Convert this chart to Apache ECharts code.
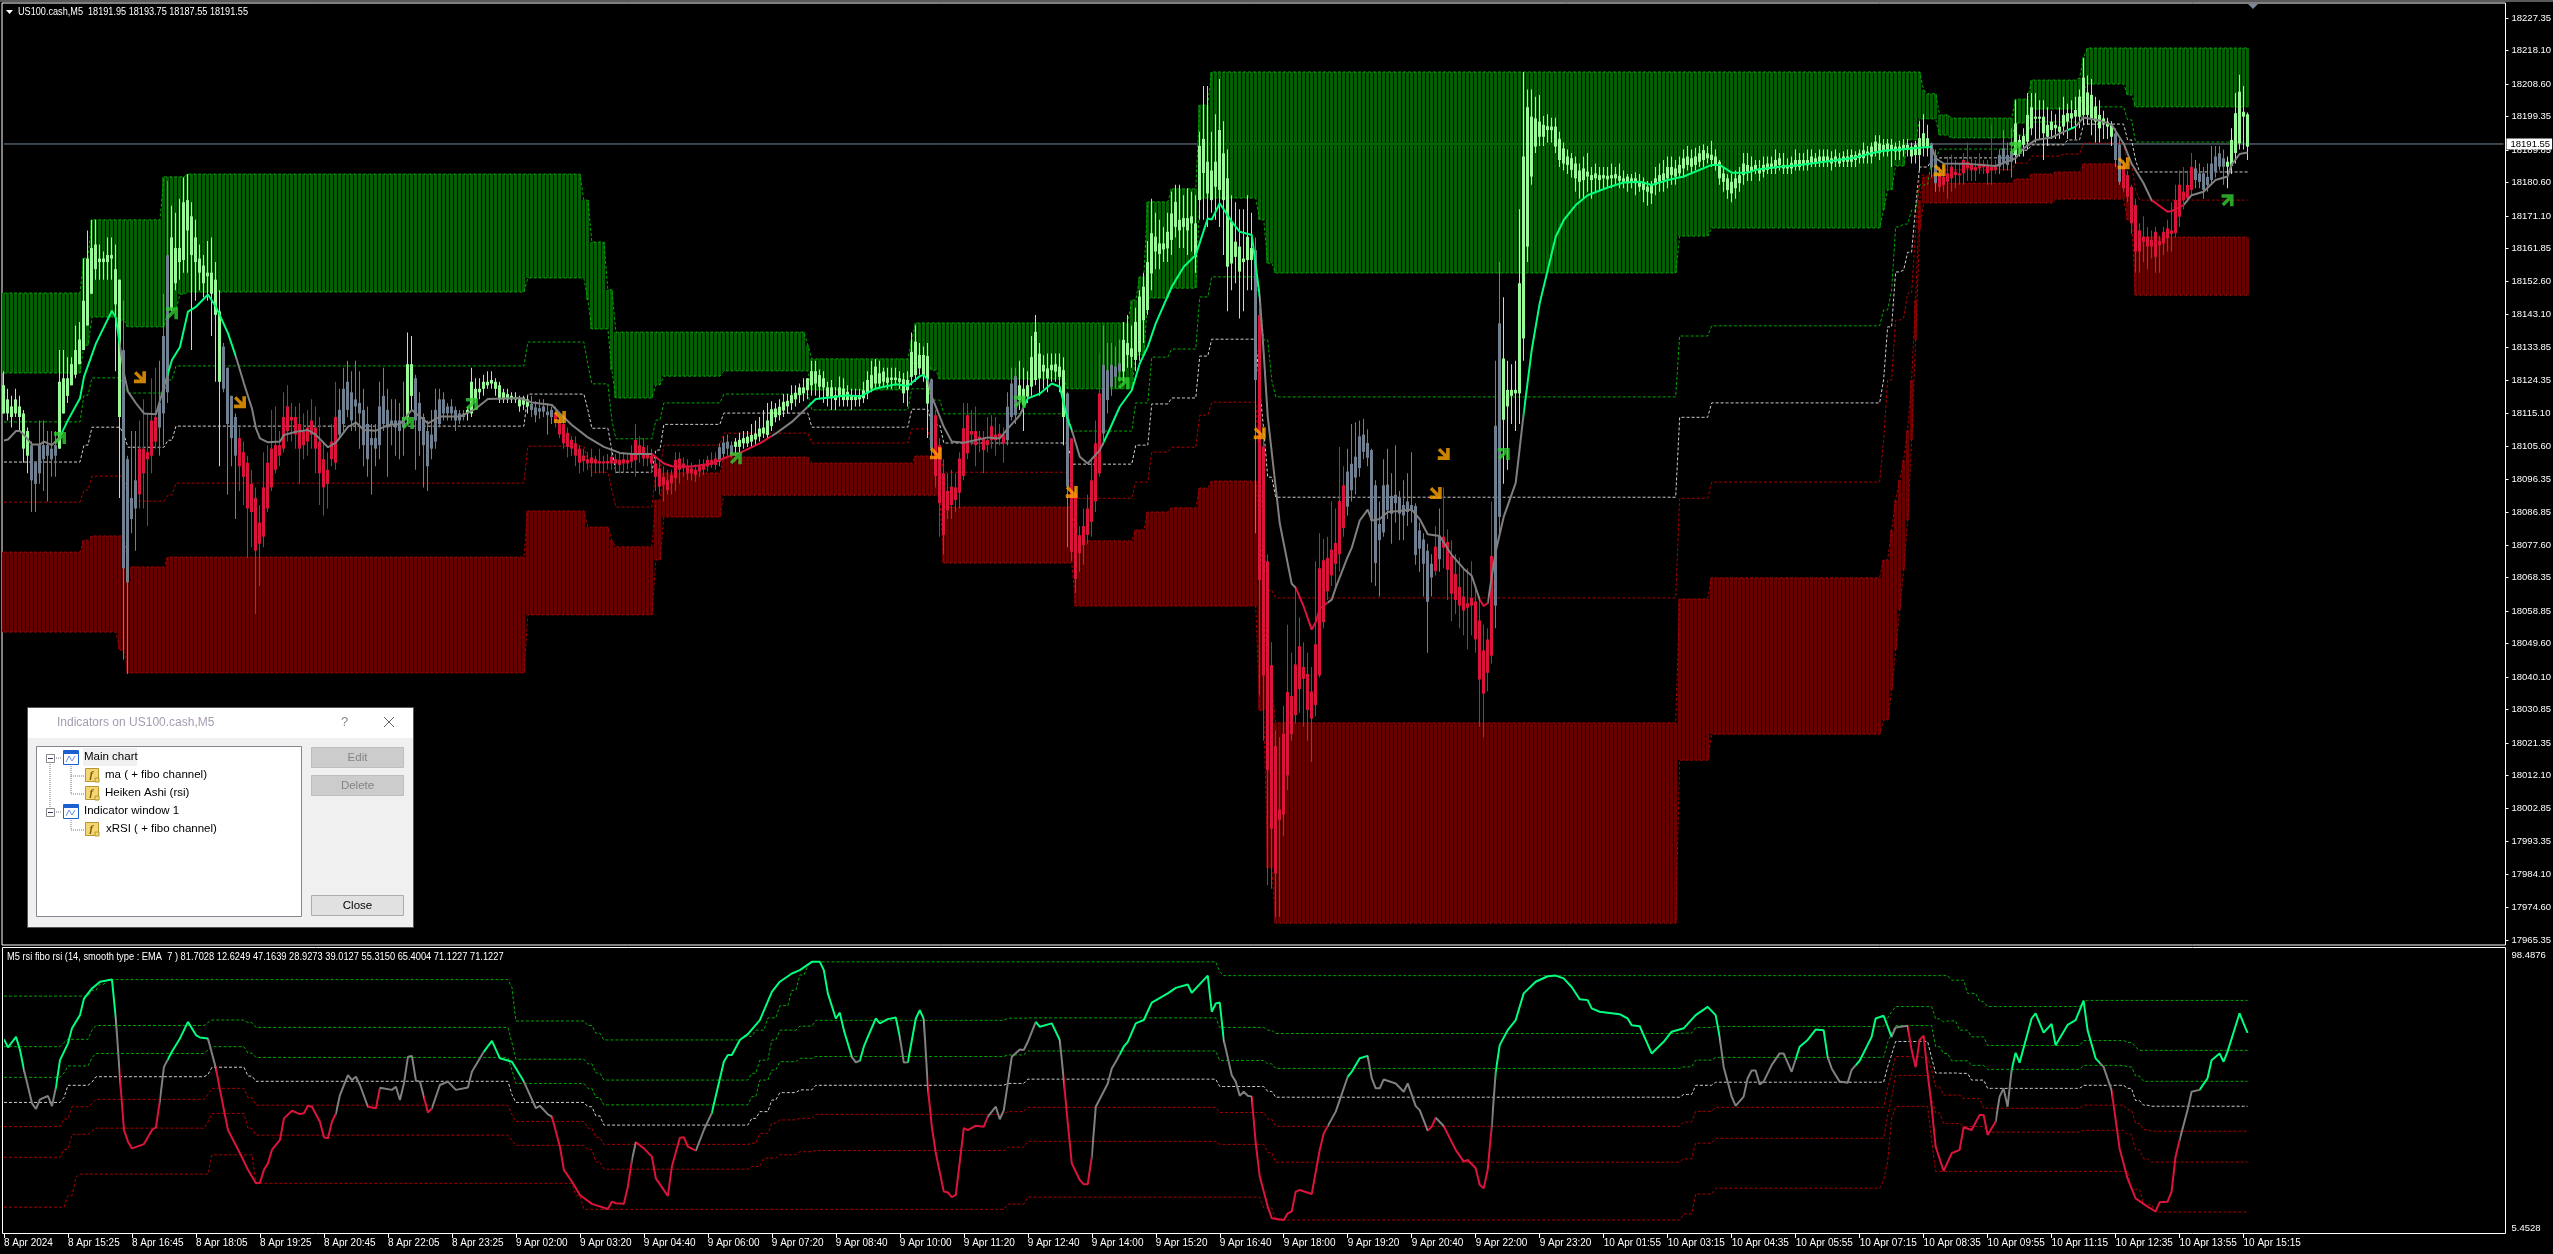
<!DOCTYPE html>
<html><head><meta charset="utf-8"><title>US100.cash,M5</title>
<script src="https://cdn.jsdelivr.net/npm/echarts@6/dist/echarts.min.js"></script>
<style>html,body{margin:0;background:#000}#c{width:2553px;height:1254px}</style></head>
<body><div id="c"></div><script>
const priceBase = 18000;
const barCount = 562, slotCount = 626;
const timeLabels = ['8 Apr 2024','8 Apr 15:25','8 Apr 16:45','8 Apr 18:05','8 Apr 19:25','8 Apr 20:45','8 Apr 22:05','8 Apr 23:25','9 Apr 02:00','9 Apr 03:20','9 Apr 04:40','9 Apr 06:00','9 Apr 07:20','9 Apr 08:40','9 Apr 10:00','9 Apr 11:20','9 Apr 12:40','9 Apr 14:00','9 Apr 15:20','9 Apr 16:40','9 Apr 18:00','9 Apr 19:20','9 Apr 20:40','9 Apr 22:00','9 Apr 23:20','10 Apr 01:55','10 Apr 03:15','10 Apr 04:35','10 Apr 05:55','10 Apr 07:15','10 Apr 08:35','10 Apr 09:55','10 Apr 11:15','10 Apr 12:35','10 Apr 13:55','10 Apr 15:15'];
const priceTicks = [18227.35,18218.10,18208.60,18199.35,18189.85,18180.60,18171.10,18161.85,18152.60,18143.10,18133.85,18124.35,18115.10,18105.60,18096.35,18086.85,18077.60,18068.35,18058.85,18049.60,18040.10,18030.85,18021.35,18012.10,18002.85,17993.35,17984.10,17974.60,17965.35];
const rsiTicks = [98.4876,5.4528];
const lastPrice = 18191.55;

// Heiken Ashi bars: [open, close, low, high], price minus priceBase
const bars000 = [[115,123,115,127],[115,119,113,122],[114,117,111,120],[115,119,114,122],[114,117,110,120],[105,115,101,116],[103,110,98,111],[96,106,87,107],[95,101,87,101],[98,106,95,113],[102,106,93,113],[103,106,90,110],[102,105,97,110],[103,106,97,110],[105,124,105,133],[115,125,115,133],[120,125,118,131],[123,129,123,131],[126,133,125,140],[129,136,129,141],[133,147,133,159],[140,159,140,167],[149,162,149,170],[156,163,153,170],[158,159,153,163],[158,159,153,161],[158,160,153,165],[159,160,153,165],[146,156,127,163],[114,153,91,153],[71,133,45,147],[67,102,41,103],[85,91,81,110],[88,96,76,110],[92,105,88,113],[98,105,88,119],[102,104,83,115],[103,113,98,125],[107,114,105,128],[111,118,103,130],[115,137,106,149],[121,160,118,181],[145,165,144,174],[152,162,150,172],[158,162,153,176],[158.6,175,155,182],[167,175.6,155,183],[160,171,133,175],[158,165,147,170],[155,159,150,163],[152,157,148,160],[154,155,147,164],[149,155,137,165],[143,153,124,158],[124,144,100,150],[122,134,121,135],[112,128,92,128],[108,120,100,120],[103,114,85,115],[100,108,93,111],[97,104,89,107],[88,101,74,103],[87,95,77,99],[76,91,58,94],[78,84,66,89],[80,94,77,104],[88,101,87,106],[94,105,93,116],[99,106,98,117],[103,106,100,110],[105,114,104,121],[110,117,107,123],[113,114,107,118],[109,114,105,117],[105,112,95,118],[106,110,102,115],[107,111,103,116],[109,113,105,119],[105,111,98,117],[98,107,89,114],[94,102,86,107],[95,99,88,104],[102,107,100,112],[101,114,99,124],[109,116,108,122],[112,122,110,128],[116,124,114,130],[113,121,110,127],[117,119,110,130],[115,118,105,127],[106,116,100,122],[102,112,97,117],[106,108,92,112],[105,108,100,112],[106,117,102,124],[112,120,110,128],[111,116,97,122],[112,113,106,119],[111,113,103,119],[110,113,102,118]];
const bars100 = [[111,114,103,124],[114,129,112,138],[120,129,116,137],[113,125,99,126],[110,118,103,121],[106,114,94,115],[100,110,93,113],[105,109,102,116],[107,116,105,122],[112,119,111,122],[115,119,113,121],[115,117,113,118],[115,117,113,119],[113,116,110,117],[113,115,112,116],[114,115,113,116],[115,116,113,117],[115,124,114,128],[119,122,118,125],[121,122,119,125],[122,124,120,126],[123,124,122,127],[123.5,124.5,122,127],[122,124,120,125],[119,123,118,124],[119,121,118,122],[119,120.5,118,122],[119,120,118,121],[119,119.7,118,121],[117,119,115.5,120],[117.5,119.5,116,120],[117,119,115,120],[116,117.7,114,120],[114.5,116.7,112.5,118.5],[115.5,116.5,113.5,119],[115.5,117,114,119],[114.5,115.5,109,118],[114,116,112,117],[113,115,111,117],[109,112.5,108,114],[106.5,112,105,114],[105.5,109.5,102.5,111],[105,107.5,103,108.5],[103,106.5,100,108.5],[101,105,98,106],[101.5,103,98.5,105],[100.8,102,99,104],[100.8,102.5,97,105],[100.8,102,98,103],[100.8,101.5,98,105],[100.8,101.4,98,103],[100.8,101.5,99,103.5],[100.8,102.7,99,105],[100.8,102,98,103.5],[100.4,101.8,98,104],[100.8,102,98,104],[100.8,101.8,99,103.5],[101.3,103.6,99.5,106],[101.7,107.5,97,112],[103.7,106,101,108.5],[102.2,105.5,100,108],[102.2,103.8,100,106],[100.8,103,98,105],[97,100.8,93,103],[94.2,99.4,92,102],[94.7,97,90,100],[93.2,96,92,99],[95.2,97.5,92,99],[96.6,101.8,93,104],[99,102.2,95,104],[99.4,100.8,97,102.5],[98,100,96,102],[98,99.4,96,101],[97.5,99,95.5,100.5],[98.5,100,97,102],[99,100.5,97.5,102],[99.9,101.8,98.5,103],[100.4,101.8,99.5,104],[100.4,102.2,99,104],[101.3,105.4,100,106.5],[103.5,106.7,102.5,108.5],[105,107,103,109],[103.2,106,102.5,107],[105.5,107,103,108],[105.5,107.5,104,109.5],[106.5,108,105,110],[106.5,108.4,105.5,110],[107,108.9,105.5,112],[107.6,109.3,106,113],[108.4,110.7,107,114],[109.3,111,108,116],[108.9,113,108,118],[111.4,116.2,110,118.5],[113.9,116.4,112.5,118],[114.5,116.9,113,119],[115.8,118.3,114,120.5],[117,118.6,115,120.5],[117.9,120.2,116,123],[119,120.9,117,123],[120.2,122.4,118,123.5]];
const bars200 = [[120.7,122.4,118.5,125],[121.6,125,119,125],[123,127,120,130],[123.5,127,120,130],[122.6,125.9,119,127.5],[122.4,125,118,127],[119.8,122.4,117,124],[119.3,122.4,116,124.5],[118.8,120.2,116,122.5],[119.8,122.4,117,125.5],[118.8,122.1,117,125],[118.8,121.2,117,123],[118.8,120.2,116,122],[118.8,120.2,117,122],[119,120.2,117,122],[119.3,121.6,118,124],[120.7,124.5,119,127],[122.1,125.9,121,130],[123.5,128.3,122,130.5],[123.5,126.4,122,130],[124,126.9,122.5,128],[123.7,125.2,122,128],[124.5,125.2,122,128],[124.5,125.2,123,128],[124,125,122,127],[120.7,124.7,118,126.5],[121.6,124.5,117,127],[125.4,132.5,123,138],[125.9,135.4,124,140],[127.8,131.6,126,135],[125.9,131.6,124,134],[117.8,131.3,108,135],[105,124.7,103,125],[97.2,114.5,94,116],[89.5,106,80,108],[80.5,98,75,102],[87.5,93,85,98],[89,94.2,85,99],[90.4,94,87,98],[92.5,102.2,88,104],[97.2,110.8,96,118],[103.7,114.5,102,118],[109,110,106,116],[106,110,100,117],[107.5,108.4,104,110],[104.6,108,98,110],[106,107.4,104,114],[107.4,111.4,105,114.5],[107.4,109,103,114],[108,109.3,106,112],[106.5,108.9,101,111],[107.4,116.9,106,121],[114,123.5,113,128],[114.5,125.6,112,128],[118.8,123,116,130],[117.4,122,110,128],[119.8,123,118,127],[122.6,131,120,137],[124.5,138.2,123,143],[125,132,120,135],[126.9,128.8,122,131.5],[125,127.8,121,132],[127.3,128.8,124,132],[126.9,129,124,132],[125.4,128.3,121,132],[114,127.3,106,131],[94.2,120.7,77,121],[75.7,107.9,73,108],[68,92.3,64,94],[75.3,80.4,70,83],[77.6,83,72,88],[80.5,88,78,92],[84.2,96,80,102],[90,106.5,87,113],[98,120.7,97,132],[109.3,128.8,106,140],[118.8,127.3,115,135],[122.6,128.8,120,135],[125.4,128.3,122,134],[126.9,129.2,124,136],[126.9,135.9,124,141],[131.6,135,128,143],[131.1,133.5,128,140],[130.2,141,127,145],[132.5,148.2,130,150],[141.5,151,135,155],[144.4,158,143,164],[154.8,166.2,150,176],[161,165.2,156,172],[160.3,163.3,156,170],[161.6,163.3,158,168],[161.9,166.6,158,172],[164.3,171.8,160,178],[168,175.1,165,180],[167,170,162,180],[168,170.5,162,177],[167,170.5,160,179],[169,171,161,178],[159.5,169,155,177],[175.6,191,170,195]];
const bars300 = [[183.3,193,170,208],[177.5,186.5,168,208],[175.6,184,172,195],[179.4,186.5,170,200],[178.5,195.5,168,210],[175.6,188.9,160,198],[156.7,181.8,144,190],[157.6,169.5,150,177],[159.5,163.8,152,175],[155.3,162.4,142,173],[158,159,144,173],[158.6,165.2,150,177],[158.6,162,150,172],[124.5,161.4,81,165],[67.7,143,35,145],[40.6,105.6,22,110],[13.7,73,-19,75],[-3,43.5,-20,50],[-15.7,20.5,-28,25],[-0.5,2.5,-28,23],[1,24,-5,32],[12.2,35.9,8,55],[23.9,34.7,22,47],[29.3,43.7,27,65],[36.7,48.9,30,57],[39.6,43,26,50],[30.8,41,22,47],[28.3,36,16,43],[32.2,49.4,29,73],[40.6,71,40,81],[55.7,73.3,54,79.3],[64.5,74,62,80],[69,76.3,66,90],[72.3,78.2,65,88],[75,90.1,70,105.5],[82.4,94.6,80,100],[88.5,98.5,86,105],[93.2,100.7,90,112],[96.8,102.7,92,112.5],[99.5,108.5,97,113],[104.1,109,102,113.5],[102.4,106.6,100,110.5],[84.6,104.6,67,105],[72.5,94.6,66,96],[79,83.6,63,90],[81.2,94.6,80,102],[87.5,94.8,85,105],[86.5,91.6,78,98],[89.5,91.9,84,106],[86.5,91,79,93],[86,89,79,96],[87,90,83,98],[87.5,89,84,104],[74.8,88.7,72,89.5],[76.6,81.8,70,84],[72.3,79.2,63,81],[61.5,76,47,78],[68.4,72.3,63,75],[70.2,77.2,69,83],[73.6,80.2,70,88],[76.8,80,71,94],[70.6,78.5,62,82],[63.8,74.5,56,79],[62,69.4,58,75],[60.4,65.7,54,74],[59,63,52,71],[59.8,61.1,48,71],[60.4,62.6,52,73],[50.8,61.6,47,65],[39.4,56.2,26,63],[35.4,47.7,23,55],[41.3,50.8,36,54],[46.2,74.5,44,90],[60.4,111.5,54,130],[85.6,140.6,80,158],[113.2,130.6,95,148],[117,121.7,99,130],[120,121.7,112,129],[120.7,121.7,110,130],[120.7,152,112,173],[136.3,188,130,212],[162.4,202,158,207],[182.3,199.3,180,207],[190.8,198.8,189,205],[193.6,197.9,191,205.5],[193.6,197,191,199.5],[195.5,196.6,192,200],[195.5,196.5,192,199],[190.8,196.5,189,199],[187,193,185,195],[186,190.3,184,192],[185.6,188,183,190],[184.2,187.5,182,189],[181.8,186,178,188],[180.8,184,176,186],[181.3,184.6,176,188],[182.3,183.7,178,189],[181.3,182.7,176,185],[181.8,183.2,178,186],[181.3,182.7,178,185]];
const bars400 = [[181.8,182.7,179,185],[181.5,182.5,179,185],[181.8,182.7,179,186],[181.8,183,180,185],[181.1,182.5,179,186],[180.8,181.8,179,184],[180.4,182.3,178,183],[180.8,181.8,179,183],[180.4,181.8,177,183.5],[179.4,180.8,178,183],[178.5,180.8,175,182],[178,179.4,174,181],[177.5,179.9,174.5,181],[179.9,181.8,177,185],[180.8,182.7,178,186],[181.3,183.2,178,187],[181.8,185,179,188],[182.7,185,180,188],[182.3,184.6,180,187],[183.2,185.6,182,188],[184.6,187.5,182,190],[185.6,188,184,191],[185.1,187.5,183,190],[185.6,188,184,190.5],[186.5,188.9,185,191],[187,189.8,185,191.5],[187.5,188.9,186,191],[187,188.5,185,192.5],[185.6,188,184,190],[181.8,186.5,180,187],[180.8,183.2,178,185],[178.5,181.8,176,183],[177.5,180.8,175,183],[179,181.8,176,184],[180.4,182.7,178,185],[182.7,186,180,189],[183.7,185.6,181,189],[183.7,185.1,181,188],[184.2,185.6,183,187],[183.2,184.6,181,187],[183.7,185.6,182,188],[184.2,186,183,188],[184.6,186,183,188],[184.6,187,183,190],[185.6,187.5,184,189],[184.6,185.6,183,189],[184.6,185.6,183,187.5],[184.6,186.2,183,188],[185.1,187,184,190],[185,187,184,189],[185.5,187,184,189],[185.5,187,184,190],[186,188,185,190],[186,187.5,185,189],[186.5,188,185,190],[186.5,188,185,190],[186.5,188,185,190],[186,187.5,184,189.5],[186.5,188,185,190],[186,187.5,185,189],[186.5,188,185,189.5],[186.5,188,185,190],[186.5,188.4,185,190],[187,188.4,185,189.5],[187.5,188.9,186,190],[187.5,189.8,186,192],[188.4,189.4,186,191],[188,190.8,186,192],[189.4,192.2,188,194],[188.9,191.7,187,194],[189.4,191.3,188,193],[189.4,191.7,188,193],[189.8,191.3,185,193],[189.4,190.8,187,192],[189.4,190.8,187,192.5],[189.8,191.3,188,193],[189.8,191.3,188,193],[188,190.8,186,192],[188.4,191.3,186,192.5],[188.4,193.2,184,198],[190.8,194.6,188,200],[190.3,193.2,188,197],[184.9,191.7,182,192],[180.4,188.4,178,190],[179.4,183.2,178,185],[179.9,182.2,178,186],[180.8,183.2,176,188],[181.8,185.1,178,188.5],[182.7,183.7,179,187],[182.7,183.2,180,186],[183.2,187,180,189],[184.6,186.5,181,192],[184.1,186,181,188],[184,185,181,187],[184.6,186,183,189],[184.9,185.9,183,187],[183.2,185.6,180,187],[184,185.1,180,197],[184.2,185.1,183,187],[185.1,188.4,183,190]];
const bars500 = [[186,190.3,184,195.5],[185.6,188.4,184,192],[186.5,189.4,182,196],[188.4,197.4,186,204],[190.8,192.7,188,194],[191.3,193.8,188,196],[192.2,199.8,190,206],[196,202,194,206],[198.8,199.3,192,206],[198.8,199.3,193,204],[194.6,199.3,187,204],[193.6,197,191,202],[195.5,197.9,193,201],[196,197,193,200],[195,196.5,193,202],[196.5,199.8,194,205],[197.9,200.3,193,203],[198.8,200.3,196,204],[199.3,201.2,193,205],[199.3,205,196,207],[199.8,210.4,197,216],[199.8,206.2,197,211],[198.8,205.5,194,210],[197.9,202.2,192,205],[196,199.8,192,204],[197.4,198.8,193,201],[196.5,197.9,193,199],[193.6,197,191,198],[187,194.6,185,196],[180.8,191.3,180,193],[179,185,178,187],[176.6,182.7,175,184],[169,179.4,166,180],[161,174.2,155,176],[161,167,155,169],[163.8,165.2,158,171],[162.4,165.2,156,168],[162.4,164.3,159,167],[159.5,166.6,155,168],[162.8,164,155,165.5],[163.3,166.6,160,168],[164.8,167.6,161,170],[166,167,161,175],[166.2,175.6,165,180],[170.9,180,168,184],[175.6,178,173,185],[176.1,179.9,175,184],[178.5,185,177,189],[181.3,184.6,179,187],[180.8,183.2,179,186],[178.5,183.2,176,185],[179.9,182.2,178,186],[181.3,186,180,191],[183.7,188,182,191],[185.1,188.9,184,191],[185.1,187.5,180,190],[185.1,186.5,179,188],[185.3,192.7,183,196],[189,200.3,186,206],[191.7,206.4,190,211.2],[199.3,200.7,190,208],[190.8,200,187,200.5]];
// [first bar, colour class]
const barColourRuns = [[0,'g'],[7,'s'],[14,'g'],[30,'s'],[34,'r'],[39,'s'],[42,'g'],[55,'s'],[59,'r'],[84,'s'],[101,'g'],[103,'s'],[116,'g'],[132,'s'],[138,'r'],[179,'s'],[183,'g'],[232,'s'],[233,'r'],[251,'s'],[254,'g'],[266,'s'],[267,'r'],[275,'s'],[280,'g'],[313,'s'],[314,'r'],[336,'s'],[358,'r'],[359,'s'],[360,'r'],[373,'s'],[375,'g'],[482,'s'],[484,'r'],[499,'s'],[503,'g'],[528,'s'],[530,'r'],[548,'s'],[556,'g']];

// main-window fibo channel: [first bar, price minus priceBase]
const fibo1 = [[0,149.2],[20,159.1],[22,170],[40,182.2],[46,183],[145,175.6],[147,163.7],[151,150.1],[153,138.1],[201,134.4],[202,130.5],[227,135.9],[228,140.7],[282,147.2],[284,153.8],[286,175.1],[292,178.8],[299,202.6],[302,212],[480,206.9],[481,205.8],[484,199.8],[487,198.9],[503,204.3],[507,209.7],[519,210.3],[520,216.2],[521,218.8]];
const fibo2 = [[0,126.5],[20,134.4],[22,142.4],[29,141.5],[31,139.6],[41,144.4],[44,148.9],[46,149.5],[131,153.5],[146,147.2],[147,139],[152,127.3],[153,119.4],[163,123.1],[165,125.6],[180,127.1],[202,121.7],[227,129.3],[232,127.3],[234,124.8],[266,122],[283,131.6],[286,147.8],[292,150.6],[299,176.2],[314,170],[316,157.7],[318,154.9],[419,165.4],[427,167.7],[470,172.8],[471,178.5],[473,185.3],[476,192.7],[479,198.7],[484,194.1],[487,193.3],[503,197.5],[507,201.5],[520,206.9],[521,208.6],[531,205.5],[533,202.1]];
const fibo3 = [[0,112.6],[20,120.2],[22,125.1],[30,123.1],[31,120.8],[41,124.5],[43,128.5],[131,135.3],[146,128.8],[147,123.4],[152,113.1],[153,107.8],[163,113.1],[165,118],[180,120.5],[202,116],[227,122],[232,118.8],[235,114.9],[267,110],[283,118],[287,131],[292,133.3],[299,148.1],[302,153.8],[314,147.2],[315,135.9],[317,124.5],[318,119.7],[419,137],[427,139.9],[470,144.4],[472,150.1],[473,168],[475,168.8],[477,172.8],[479,179.9],[482,187],[484,190.1],[503,194.1],[507,197.8],[520,200.6],[521,202.1],[531,198.4],[533,192.1]];
const fibo4 = [[0,101.2],[20,106],[22,111.1],[30,108.9],[31,105.4],[41,107.4],[43,111.4],[131,120.5],[146,116],[147,110.8],[152,104.6],[153,98.3],[163,104.6],[165,111.9],[180,115.1],[202,111.1],[227,116.2],[232,111.7],[235,106.6],[267,100.6],[283,106],[287,117.7],[292,119.4],[299,131.3],[302,136.1],[314,121.7],[315,110.3],[316,96.9],[318,91.2],[419,113.9],[427,118],[470,124.5],[471,139.6],[473,155.2],[475,155.7],[476,160.8],[478,173.6],[479,185],[482,187],[484,187.6],[503,189.8],[507,191.3],[516,192.7],[520,197.2],[531,192.7],[533,187],[534,183.6]];
const fibo5 = [[0,89.8],[20,93.2],[22,97.2],[31,90.1],[41,91.8],[43,95.2],[131,105.7],[146,101.8],[147,98.3],[152,93.2],[153,88.4],[163,98.9],[165,106],[180,109.4],[202,106.6],[227,110.6],[232,104.6],[235,98.3],[267,90.9],[283,95.5],[287,104],[292,105.4],[299,114.5],[302,118.2],[314,98.9],[315,79],[316,64.8],[318,62.6],[419,90.9],[427,95.5],[470,107.4],[471,124.5],[473,141.5],[475,142.1],[476,149.2],[478,167.1],[479,182.7],[484,184.2],[503,186.1],[507,188.1],[515,188.7],[520,191.8],[531,185.6],[533,178.5],[534,175.6]];
const fibo6 = [[0,75.6],[20,79],[22,80.2],[31,71.4],[41,74.2],[131,87.3],[146,82.7],[152,79],[153,77.1],[163,90.4],[165,98.1],[180,102.6],[202,100.9],[228,102.9],[235,88.4],[268,78.8],[283,81.9],[286,87],[292,88.2],[299,93.8],[302,95.8],[314,84.7],[315,62],[316,36.4],[318,27.1],[419,62.3],[427,68.3],[470,73.4],[472,81.9],[473,90.4],[474,96.1],[475,101.8],[476,110.3],[477,124.5],[478,147.2],[479,175.6],[480,182.2],[484,180.4],[503,181.6],[507,183],[513,183.6],[520,185.9],[531,178.5],[533,165.1]];
const fibo7 = [[0,52.9],[29,47.8],[31,41.3],[131,57.8],[163,73.4],[165,85.6],[180,91.8],[235,72.5],[268,60.3],[314,30.7],[316,-14.1],[318,-29.8],[419,16.5],[427,23.9],[470,27.9],[472,36.4],[473,47.8],[474,59.2],[475,70.5],[476,84.7],[477,107.4],[478,135.9],[479,167.1],[480,174.8],[513,175.9],[531,170],[533,148.6]];

// moving average, read vertices [bar, price minus priceBase]
const maLine = [[0,107.3],[1,107.6],[3,110],[4,110],[5,108.9],[7,106.2],[9,106.2],[10,107],[12,106],[14,108.4],[16,113.1],[19,119.3],[20,125.4],[23,134.9],[27,144.2],[28,142],[30,126.4],[31,121.2],[33,117.9],[35,115],[38,114.8],[40,122.6],[42,130.2],[44,133.9],[46,143.9],[48,145.3],[51,148.8],[53,145.3],[56,137.8],[58,131.1],[60,123.5],[62,116.4],[63,110.8],[64,107.9],[66,106.8],[69,107],[70,108.9],[73,109.8],[76,110.3],[78,108.9],[81,105.4],[83,106.7],[86,111.2],[88,112.4],[90,110.3],[93,110.1],[96,111.7],[99,112],[102,116],[106,112.2],[109,114.1],[114,114.1],[118,116.4],[121,119.1],[129,119.4],[132,118.1],[137,117.4],[139,115],[142,111.7],[146,108.2],[150,105.5],[154,103.8],[157,103.5],[162,103.5],[165,100.8],[167,100],[172,99.9],[177,100.8],[181,102.7],[184,103.8],[189,106.5],[193,109.3],[197,112.6],[201,116.9],[203,119.1],[207,119.6],[211,120.2],[214,119.8],[218,122.1],[223,123.3],[226,122.8],[229,125.6],[230,125.9],[231,124.5],[232,119.8],[235,111.2],[237,107],[240,106.7],[246,108.2],[249,107.9],[251,110.7],[254,114.5],[256,119.3],[259,120.6],[262,123.5],[264,122.6],[265,117.9],[266,113.1],[267,110.3],[269,102.7],[271,100.8],[274,104.6],[276,109.3],[279,116.9],[282,121.6],[284,129.2],[286,134],[288,140.6],[292,151],[295,156.7],[298,160],[301,170.4],[302,170.1],[304,174.7],[307,169.5],[309,166.6],[312,165.7],[314,148.2],[315,132],[316,114.1],[319,83.8],[322,66.6],[323,65.5],[325,60.1],[327,53.6],[328,55.7],[329,59.6],[332,62.1],[333,65.5],[336,74.3],[337,76.8],[339,84.6],[341,87.7],[342,84.6],[344,85],[346,87],[349,87.3],[352,87.7],[354,85],[356,80.7],[359,80.2],[362,74.8],[365,70.9],[367,68.9],[369,62.1],[370,60.3],[371,61.1],[373,75.8],[375,85.6],[378,95.3],[379,105.1],[380,115],[382,133],[384,146.3],[386,155.7],[388,165.2],[390,169.9],[393,174.2],[396,177],[401,179.2],[405,180.6],[409,180.8],[412,179.9],[416,181.3],[420,182.3],[427,185.6],[429,185.6],[432,183.4],[436,183.4],[438,184.2],[444,185.1],[449,185.6],[462,187.5],[467,188.9],[470,189.6],[474,190],[477,190.3],[482,190.8],[483,187.5],[485,186],[491,185.9],[498,185.3],[503,187.5],[505,190.3],[508,192.7],[512,193.4],[515,195],[518,196.5],[520,199.1],[524,198.2],[527,197],[530,191.7],[532,186],[535,180.4],[537,175.6],[541,172.3],[542,172.5],[545,174.2],[547,177],[550,178],[553,181.3],[556,182.3],[557,185.6],[559,188.7],[561,189.1]];
const maColourRuns = [[0,'w'],[14,'u'],[29,'w'],[41,'u'],[58,'w'],[162,'d'],[192,'w'],[201,'u'],[231,'w'],[255,'u'],[267,'w'],[275,'u'],[314,'w'],[323,'d'],[331,'w'],[369,'d'],[371,'w'],[380,'u'],[482,'w'],[516,'u'],[518,'w'],[537,'d'],[545,'w']];

// signal arrows: [bar, price minus priceBase]
const sellArrows = [[34,125.3],[59,118.2],[139,114],[233,103.7],[267,92.7],[314,109.4],[360,103.5],[358,92.4],[484,184.1],[530,186.1]];
const buyArrows = [[14,108],[42,143.5],[101,112.3],[117,117.7],[183,102.3],[254,118.3],[280,123.6],[375,103.5],[503,190.4],[556,175.6]];

// RSI window: read vertices [bar, value]
const rsiLine = [[0,69],[1,66.4],[3,69.8],[4,65.5],[5,59],[7,48.1],[8,46.3],[9,49.4],[11,50.5],[12,47.2],[13,53.5],[14,62.2],[16,67.7],[17,72.6],[19,76.9],[20,82.3],[22,85.6],[24,87.8],[27,88.5],[28,75.3],[29,56.3],[30,39.4],[31,35.6],[32,33.4],[35,34.8],[37,39.4],[38,40.3],[39,49.2],[40,60],[42,65],[44,69.3],[46,74.7],[48,70.4],[49,69.6],[51,69.3],[53,59.5],[54,52.5],[56,39.4],[59,31.8],[61,26.4],[63,22],[64,22.2],[65,26.4],[66,28.5],[67,32.9],[69,36.2],[70,43.2],[72,45.7],[74,44.6],[75,44.9],[76,47.3],[77,47],[79,42.1],[80,37],[81,36.7],[82,42.1],[83,44.8],[84,50.8],[86,57.3],[87,55.7],[88,56.8],[89,54.1],[91,47],[93,46.5],[94,53.2],[97,52.5],[98,53.5],[99,49.2],[100,54.6],[101,63.3],[102,63.6],[103,55.5],[104,55.2],[106,45.1],[107,46.5],[109,54.1],[111,55.2],[113,52.5],[116,53.3],[117,58.4],[120,65],[122,68.5],[124,62.8],[127,61.7],[130,55.2],[133,46.5],[134,47.3],[136,44.5],[137,43.8],[139,34],[140,26.4],[142,22.6],[144,18.2],[147,15.3],[151,13.6],[152,16],[153,15.5],[155,15.3],[156,20.9],[157,29.6],[158,35.4],[160,33.4],[162,30.7],[163,23.6],[166,17.9],[167,27.5],[169,36.9],[170,37],[171,34],[173,32.7],[175,39.4],[177,45],[180,61.7],[181,63.9],[182,63.9],[184,68.8],[186,70.7],[189,75.3],[192,84.5],[194,87.8],[197,90.5],[199,91.6],[202,94.3],[204,94.3],[205,91.6],[206,84],[208,75.8],[209,77.7],[210,72],[212,63.3],[213,61.5],[214,62],[215,66.6],[216,69.8],[218,75.8],[219,74.2],[221,75.6],[223,76.1],[224,69.8],[225,61.4],[226,61.5],[228,75.8],[229,78.5],[230,75.6],[231,53.5],[232,40.5],[233,31.8],[235,19.3],[236,19],[237,17.5],[238,18.2],[240,40],[241,39.4],[243,40.8],[245,40.5],[246,43.8],[248,47],[249,42.9],[250,45.9],[251,54.6],[252,63.3],[254,65.7],[255,65.5],[256,68.2],[258,74.7],[259,73.1],[262,74.2],[264,68.8],[265,55.7],[266,41.6],[267,28.5],[269,23.1],[270,21.7],[271,21.7],[272,30.7],[273,47],[276,54.6],[277,59.5],[278,61.7],[280,66.6],[281,68.2],[283,74.2],[285,75.3],[287,81],[291,84],[293,85.8],[296,86.9],[297,84.2],[301,89.8],[302,78],[303,80.7],[304,81],[305,68.8],[307,57.3],[308,55.2],[309,50.6],[310,51.9],[311,50.6],[312,50.3],[313,35],[314,24.2],[316,14.4],[317,10.6],[320,10],[321,12.2],[322,12.8],[323,19.3],[324,19.8],[327,18.5],[329,32.9],[330,38.3],[333,45.4],[336,56.8],[337,58.4],[339,62.8],[341,63.6],[342,56.3],[343,53],[344,53],[345,55.9],[348,54.6],[350,51.9],[351,54.6],[353,47.2],[354,45.9],[356,39.2],[357,40.5],[358,43.4],[360,40.7],[363,32.9],[365,29.1],[366,29.6],[368,26.9],[369,21.5],[370,20.4],[371,26.4],[372,40.5],[373,58.4],[374,67.1],[376,72],[378,75.3],[380,84],[383,87.8],[386,89.6],[388,89.8],[390,88.9],[392,86.1],[394,82.1],[396,81.8],[397,79.1],[399,78],[404,77.2],[406,75.8],[407,73.6],[409,73.3],[412,64.4],[415,68.2],[417,71.5],[420,72.6],[423,76.9],[426,79.6],[428,76.9],[429,69.8],[430,60],[432,50.3],[433,47.3],[435,50.3],[436,56.3],[437,58.8],[438,58.8],[439,54.3],[440,55.2],[442,60.6],[444,64.4],[445,64.4],[447,58.4],[449,66.6],[451,68.8],[453,72.2],[455,72],[456,63.3],[457,59.5],[459,55.2],[461,54.8],[462,59],[464,62],[467,69.8],[468,75.8],[470,76.7],[472,69.8],[473,72.9],[476,73.4],[477,65.5],[478,59.9],[479,68.8],[480,70.2],[481,57.9],[482,47],[483,34],[485,26],[487,31.8],[489,32.9],[490,40.3],[492,39.4],[494,44.3],[495,44.3],[496,37.8],[498,42.1],[499,50.3],[500,53],[501,47],[502,59],[503,64.6],[504,61.4],[507,75.8],[508,77.5],[510,71.2],[512,74],[513,67.1],[516,73.7],[518,75.3],[520,81.6],[521,72],[523,62.8],[525,60],[527,52.4],[529,33.4],[531,23.6],[533,17.1],[536,14.4],[538,12.8],[539,15.8],[541,16],[542,19.3],[543,30.7],[544,36.1],[546,45.9],[547,51.9],[549,52.5],[551,56.3],[552,62.2],[554,64.4],[555,61.7],[556,65],[559,77.5],[560,74.2],[561,71.12]];
const rsiColourRuns = [[0,'u'],[5,'w'],[13,'u'],[28,'w'],[29,'d'],[39,'w'],[41,'u'],[51,'w'],[53,'d'],[83,'w'],[91,'d'],[94,'w'],[105,'d'],[107,'w'],[120,'u'],[130,'w'],[137,'d'],[157,'w'],[158,'d'],[173,'w'],[177,'u'],[212,'w'],[214,'u'],[224,'w'],[226,'u'],[230,'w'],[231,'d'],[246,'w'],[258,'u'],[264,'w'],[265,'d'],[272,'w'],[279,'u'],[305,'w'],[312,'d'],[331,'w'],[336,'u'],[341,'w'],[356,'d'],[358,'w'],[360,'d'],[372,'w'],[373,'u'],[429,'w'],[448,'u'],[456,'w'],[463,'u'],[472,'w'],[476,'d'],[498,'w'],[502,'u'],[524,'w'],[527,'d'],[544,'w'],[549,'u']];
const rsiFibo1 = [[0,83.1],[22,85],[24,87],[26,88.5],[127,86],[128,75],[146,73.5],[148,71],[150,68.8],[185,70],[188,72],[191,76],[194,80],[197,85],[199,90],[201,93],[202,94.3],[304,91],[305,89.8],[487,88.3],[491,84],[494,81.3],[496,79.7],[520,81.7]];
const rsiFibo2 = [[0,66.6],[15,68],[16,69],[22,72],[23,73.5],[51,74.5],[52,75.3],[61,74.5],[63,72.9],[127,68],[128,62.5],[146,61],[148,58],[150,55.7],[187,57.9],[189,62.2],[192,68.8],[194,72],[199,73.3],[203,75.2],[251,75.9],[256,76],[304,72.9],[316,72],[318,70.9],[420,71],[423,72.9],[428,73.2],[471,76],[472,78],[473,79.7],[483,75.7],[485,74.7],[486,75],[489,72],[492,69.8],[496,67],[520,68.6],[531,68],[533,66.5],[534,65.4]];
const rsiFibo3 = [[0,56.6],[15,58],[16,60.3],[22,63],[23,64.4],[51,65.5],[52,66.6],[61,64.5],[63,63.1],[127,59],[128,54.6],[146,53],[148,50],[150,47.6],[187,50.3],[189,55.7],[192,59],[194,61.7],[199,62.8],[203,63.4],[251,63.9],[256,65.2],[304,62.1],[316,61],[318,59.5],[420,60],[423,62.2],[428,63.1],[471,68],[472,71],[473,73.5],[483,66.6],[485,64.4],[487,62],[492,60.5],[496,59.2],[520,60.5],[531,60],[533,57],[535,55.3]];
const rsiFibo4 = [[0,48.4],[15,50],[16,54],[22,55],[23,56.8],[51,57.5],[52,59.9],[61,57],[63,55.3],[127,51],[128,48.4],[146,47],[148,44],[150,41],[187,43.2],[189,45.4],[192,49.2],[194,51.6],[199,52.5],[203,54],[251,54.6],[256,56],[304,53.6],[316,52],[318,50.1],[420,51],[423,54],[428,55],[471,60],[472,64],[473,68.3],[482,63],[483,58],[489,57.9],[492,55.7],[496,53],[520,54],[531,53],[533,49],[535,47.5],[537,47.16]];
const rsiFibo5 = [[0,40.5],[15,43],[17,47],[22,48],[23,49.4],[51,51],[52,53],[61,50],[63,47.5],[127,44.5],[128,42.2],[146,40],[148,37],[150,34.7],[187,35.1],[189,38.3],[192,41.6],[194,42.7],[199,43.2],[203,44.5],[251,45.4],[256,46.8],[304,45.1],[316,43],[318,40.6],[420,42],[423,45.5],[428,46.8],[471,53],[472,58],[473,63.4],[480,63],[482,59],[483,53.5],[485,50.8],[490,49.7],[495,46.5],[520,47.5],[531,46],[533,41.5],[535,39.5],[537,39]];
const rsiFibo6 = [[0,30.5],[15,33],[17,38],[22,39],[23,40],[51,42],[52,44.8],[61,40],[63,37.7],[127,36],[128,34.4],[146,33],[148,29],[150,26.6],[187,27.5],[190,30.2],[194,31.3],[199,32.3],[203,32.7],[251,33.8],[256,35.7],[304,34.7],[316,32],[318,28.9],[420,30],[423,35.1],[428,36.7],[471,44],[472,50],[473,57.2],[482,50],[483,45],[485,41.5],[490,40.5],[496,38.7],[520,39.3],[531,38],[533,33],[535,30],[537,28.93]];
const rsiFibo7 = [[0,14.2],[16,18],[18,24],[19,25],[52,31.3],[63,22],[143,18],[145,13.5],[251,15.2],[256,17.5],[315,14],[318,10],[420,12],[423,18.5],[428,20.4],[470,23],[471,29],[472,43],[473,47.1],[482,36],[483,25.9],[532,20],[535,15],[538,12.62]];

const C = {greenLine:'#00a800', whiteLine:'#cfcfcf', redLine:'#a80000', greenFill:'#056005', redFill:'#680000',
  up:'#00ff7f', mid:'#808080', down:'#dc143c', barG:'#98fb98', barS:'#708090', barR:'#dc143c', price:'#778899'};
const FONT = '"Liberation Sans",sans-serif', UI = '"Liberation Sans",sans-serif';
const barColour = {g:C.barG, s:C.barS, r:C.barR}, lineColour = {u:C.up, w:C.mid, d:C.down};

const bars = [].concat(bars000,bars100,bars200,bars300,bars400,bars500);
const expand = (runs, base) => { const out = []; let k = 0;
  for (let i = 0; i < barCount; i++) { while (k+1 < runs.length && runs[k+1][0] <= i) k++; out.push(runs[k][1] + base); } return out; };
const cats = Array.from({length:slotCount}, (_, i) => i % 16 === 0 && i/16 < timeLabels.length ? timeLabels[i/16] : '');
const ofRun = (runs, i) => { let k = 0; while (k+1 < runs.length && runs[k+1][0] <= i) k++; return runs[k][1]; };

const series = [];
const dashed = (vals, color, ax) => ({type:'line', xAxisIndex:ax, yAxisIndex:ax, data:vals.map((v,i)=>[i,v]), symbol:'none', silent:true, animation:false,
  lineStyle:{color, width:1, type:[3,2]}, z:3});
const fillBand = (hi, lo, color) => ({type:'custom', xAxisIndex:0, yAxisIndex:0, silent:true, animation:false, z:2, clip:true,
  data:hi.map((v,i)=>[i,v,lo[i]]), encode:{x:0,y:[1,2]},
  renderItem:(p,api)=>{ const a=api.coord([api.value(0),api.value(1)]), b=api.coord([api.value(0),api.value(2)]);
    return {type:'rect', shape:{x:Math.round(a[0]-1.5), y:a[1], width:3, height:b[1]-a[1]}, style:{fill:color}}; }});

const f = [fibo1,fibo2,fibo3,fibo4,fibo5,fibo6,fibo7].map(r=>expand(r,priceBase));
const rf = [rsiFibo1,rsiFibo2,rsiFibo3,rsiFibo4,rsiFibo5,rsiFibo6,rsiFibo7].map(r=>expand(r,0));

series.push({type:'line', xAxisIndex:0, yAxisIndex:0, data:[[0,lastPrice],[slotCount-1,lastPrice]], symbol:'none', silent:true, animation:false, z:1,
  lineStyle:{color:C.price,width:1},
  endLabel:{show:true, formatter:()=>lastPrice.toFixed(2), color:'#000', backgroundColor:'#fff', fontFamily:FONT, fontSize:9.5, padding:[1,2,0,4], distance:3}});
series.push(fillBand(f[0],f[1],C.greenFill), fillBand(f[5],f[6],C.redFill));
[C.greenLine,C.greenLine,C.greenLine,C.whiteLine,C.redLine,C.redLine,C.redLine].forEach((c,k)=>series.push(dashed(f[k],c,0)));
series.push({type:'custom', xAxisIndex:0, yAxisIndex:0, silent:true, animation:false, z:4, clip:true,
  data:bars.map((b,i)=>[i,b[0]+priceBase,b[1]+priceBase,b[2]+priceBase,b[3]+priceBase]), encode:{x:0,y:[1,2,3,4]},
  renderItem:(p,api)=>{
    const i=api.value(0), top=api.coord([i,Math.max(api.value(1),api.value(2))]), bot=api.coord([i,Math.min(api.value(1),api.value(2))]);
    const hi=api.coord([i,api.value(4)]), lo=api.coord([i,api.value(3)]), x0=Math.round(top[0]-1.5), fill=barColour[ofRun(barColourRuns,i)];
    return {type:'group', children:[
      {type:'rect', shape:{x:x0+1, y:hi[1], width:1, height:lo[1]-hi[1]}, style:{fill}},
      {type:'rect', shape:{x:x0, y:top[1], width:3, height:Math.max(2,bot[1]-top[1])}, style:{fill}}
    ]};
  }});
const maIndex = series.length;
series.push({type:'line', xAxisIndex:0, yAxisIndex:0, data:maLine.map(p=>[p[0],p[1]+priceBase]), symbol:'none', silent:true, animation:false, z:5, lineStyle:{width:2}});
const arrowPath = 'path://M7,0 L10,0 L10,10 L0,10 L0,7 L5,7 L0,2 L2,0 L7,5 Z';
series.push({type:'scatter', xAxisIndex:0, yAxisIndex:0, data:sellArrows.map(p=>[p[0],p[1]+priceBase]), symbol:arrowPath, symbolSize:12, silent:true, animation:false, z:6, itemStyle:{color:'#ffa500'}});
series.push({type:'scatter', xAxisIndex:0, yAxisIndex:0, data:buyArrows.map(p=>[p[0],p[1]+priceBase]), symbol:arrowPath, symbolSize:12, symbolRotate:90, silent:true, animation:false, z:6, itemStyle:{color:'#32cd32'}});
[C.greenLine,C.greenLine,C.greenLine,C.whiteLine,C.redLine,C.redLine,C.redLine].forEach((c,k)=>series.push(dashed(rf[k],c,1)));
const rsiIndex = series.length;
series.push({type:'line', xAxisIndex:1, yAxisIndex:1, data:rsiLine, symbol:'none', silent:true, animation:false, z:5, lineStyle:{width:2}});

const pieces = runs => runs.map((r,k)=>({gte:r[0], lt:k+1<runs.length?runs[k+1][0]:9999, color:lineColour[r[1]]}));
const txt = (x,y,text,o={},p={}) => Object.assign({type:'text', x, y, silent:true, z:101, style:Object.assign({text, fill:'#000', font:'11.5px '+UI, textVerticalAlign:'middle'}, o)}, p);
const box = (x,y,w,h,fill,stroke) => ({type:'rect', shape:{x,y,width:w,height:h}, silent:true, z:100, style:{fill, stroke:stroke||null, lineWidth:1}});
const seg = (pts,stroke,dash) => ({type:'polyline', shape:{points:pts}, silent:true, z:100, style:{stroke, fill:null, lineWidth:1, lineDash:dash||null}});
const winIcon = (x,y)=>[box(x+.5,y+.5,15,14,'#fff','#1b5fd0'), box(x+1,y+1,14,3,'#1b5fd0'), seg([[x+3,y+12],[x+6,y+6],[x+9,y+11],[x+12,y+6]],'#6a8fe0')];
const fIcon = (x,y)=>[box(x+.5,y+.5,13,13,'#f4d774','#b8962e'), txt(x+4.5,y+7,'f',{font:'italic bold 11px serif',fill:'#7a5a00'}), box(x+10,y+10,4,4,'#f4d774','#b8962e')];

const graphics = [
  box(0,0,2553,2,'#5a5a5a'),
  box(2.5,947.5,2503,286,null,'#fff'),
  {type:'polygon', shape:{points:[[6,10],[13,10],[9.5,14]]}, silent:true, style:{fill:'#fff'}, z:50},
  {type:'polygon', shape:{points:[[2248,4],[2258,4],[2253,9]]}, silent:true, style:{fill:'#778899'}, z:50},
  txt(18,12,'US100.cash,M5  18191.95 18193.75 18187.55 18191.55',{fill:'#fff',font:'11px '+FONT},{scaleX:0.83}),
  txt(7,957,'M5 rsi fibo rsi (14, smooth type : EMA  7 ) 81.7028 12.6249 47.1639 28.9273 39.0127 55.3150 65.4004 71.1227 71.1227',{fill:'#fff',font:'11px '+FONT},{scaleX:0.845}),
  box(27.5,707.5,386,220,'#f0f0f0','#555'),
  box(28,708,385,30,'#fff'),
  txt(57,723,'Indicators on US100.cash,M5',{fill:'#a79bb0',font:'12px '+UI}),
  txt(341,722,'?',{fill:'#888',font:'13px '+UI}),
  seg([[384,717],[394,727]],'#666'), seg([[394,717],[384,727]],'#666'),
  box(36.5,746.5,265,170,'#fff','#828790'),
  box(311.5,747.5,92,20,'#cccccc','#bdbdbd'), txt(357.5,758,'Edit',{fill:'#838383',textAlign:'center'}),
  box(311.5,775.5,92,20,'#cccccc','#bdbdbd'), txt(357.5,786,'Delete',{fill:'#838383',textAlign:'center'}),
  box(311.5,895.5,92,20,'#e1e1e1','#adadad'), txt(357.5,906,'Close',{textAlign:'center'}),
  box(83,748,54,18,'#f0f0f0'),
  seg([[50,762],[50,808]],'#777',[1,1]), seg([[54,758],[62,758]],'#777',[1,1]), seg([[54,812],[62,812]],'#777',[1,1]),
  seg([[71,766],[71,794],[84,794]],'#777',[1,1]), seg([[71,776],[84,776]],'#777',[1,1]), seg([[71,820],[71,830],[84,830]],'#777',[1,1]),
  box(46.5,754.5,8,8,'#fff','#888'), seg([[48,758.5],[53,758.5]],'#336'), box(46.5,808.5,8,8,'#fff','#888'), seg([[48,812.5],[53,812.5]],'#336'),
  ...winIcon(63,750), ...winIcon(63,804), ...fIcon(85,768), ...fIcon(85,786), ...fIcon(85,822),
  txt(84,757,'Main chart'), txt(105,775,'ma ( + fibo channel)'), txt(105,793,'Heiken Ashi (rsi)'), txt(84,811,'Indicator window 1'), txt(106,829,'xRSI ( + fibo channel)')
];

const axisText = {color:'#fff', fontFamily:FONT, fontSize:10};
const yText = {color:'#fff', fontFamily:FONT, fontSize:9.5};
const option = {
  backgroundColor:'#000', animation:false,
  grid:[
    {left:2, top:3, width:2503.5, height:942, show:true, borderColor:'#fff', borderWidth:1, backgroundColor:'transparent', outerBoundsMode:'none'},
    {left:2, top:949, width:2503.5, height:285, show:false, outerBoundsMode:'none'}
  ],
  xAxis:[
    {type:'category', gridIndex:0, data:cats, show:false},
    {type:'category', gridIndex:1, data:cats, position:'bottom', axisLine:{show:false},
     axisTick:{show:true, alignWithLabel:true, length:4, lineStyle:{color:'#fff'}, interval:i=>i%16===0&&i/16<timeLabels.length},
     axisLabel:Object.assign({interval:i=>i%16===0&&i/16<timeLabels.length, align:'left', margin:4, hideOverlap:false}, axisText)}
  ],
  yAxis:[
    {type:'value', gridIndex:0, position:'right', min:17964, max:18231.6, splitLine:{show:false}, axisLine:{show:false},
     axisTick:{show:true, length:3, lineStyle:{color:'#fff'}, customValues:priceTicks},
     axisLabel:Object.assign({margin:6, customValues:priceTicks, formatter:v=>v.toFixed(2)}, yText)},
    {type:'value', gridIndex:1, position:'right', min:rsiTicks[1], max:rsiTicks[0], splitLine:{show:false}, axisLine:{show:false},
     axisTick:{show:false},
     axisLabel:Object.assign({margin:6, customValues:rsiTicks, formatter:v=>(v>50?'{t|':'{b|')+v.toFixed(4)+'}',
       rich:{t:{color:'#fff',fontFamily:FONT,fontSize:9.5,padding:[12,0,0,0]}, b:{color:'#fff',fontFamily:FONT,fontSize:9.5,padding:[0,0,12,0]}}}, yText)}
  ],
  visualMap:[
    {type:'piecewise', show:false, dimension:0, seriesIndex:maIndex, pieces:pieces(maColourRuns)},
    {type:'piecewise', show:false, dimension:0, seriesIndex:rsiIndex, pieces:pieces(rsiColourRuns)}
  ],
  graphic:{elements:graphics},
  series
};
const chart = echarts.init(document.getElementById('c'), null, {renderer:'canvas', width:2553, height:1254});
chart.setOption(option);
</script></body></html>
